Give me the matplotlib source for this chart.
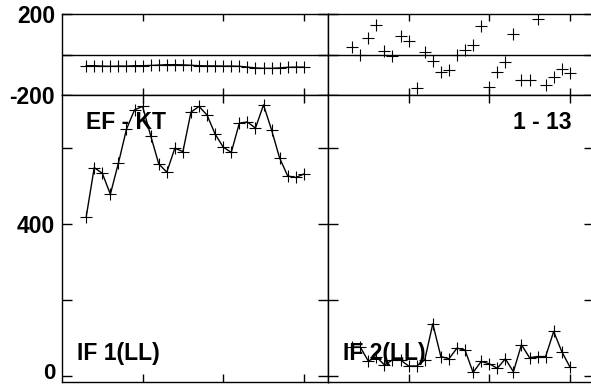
import numpy as np
import matplotlib.pyplot as plt
import matplotlib.transforms as mtransforms

# day index shared by all four panels
days = list(range(3, 31))

# top row: differences (-200..200)
ef_kt = [-55, -55, -57, -58, -57, -57, -55, -55, -54, -52, -50, -50, -51, -53,
         -55, -56, -56, -57, -57, -58, -62, -66, -68, -68, -66, -63, -62, -62]
one_13 = [35, 0, 80, 145, 15, -5, 90, 65, -165, 10, -30, -85, -75, 0,
          20, 45, 140, -160, -85, -35, 100, -125, -125, 175, -150, -110, -70, -90]

# bottom row: IF values
if1 = [418, 548, 533, 478, 560, 649, 700, 709, 632, 558, 536, 599, 590, 694,
       709, 686, 636, 602, 588, 665, 668, 652, 713, 647, 573, 526, 522, 531]
if2 = [76, 76, 39, 50, 29, 42, 42, 26, 26, 42, 137, 51, 45, 73,
       68, 9, 38, 32, 20, 45, 11, 82, 48, 51, 51, 117, 64, 24]

top_labels = ['EF - KT', '1 - 13']
bot_labels = ['IF 1(LL)', 'IF 2(LL)']

plt.rcParams['font.family'] = ['Liberation Sans', 'DejaVu Sans']
plt.rcParams['font.weight'] = 'bold'
FS = 16.5

fig = plt.figure(figsize=(5.91, 3.85), dpi=100)
W, H = 591.0, 385.0
x0 = [62, 328]
pw = 266
tops = [(14, 95), (95, 382)]

axes = {}
for c in range(2):
    for r in range(2):
        yt, yb = tops[r]
        ax = fig.add_axes([x0[c] / W, 1 - yb / H, pw / W, (yb - yt) / H])
        axes[(r, c)] = ax
        ax.set_xlim(0, 33)
        ax.set_xticks([10, 20, 30])
        ax.set_xticklabels([])
        for s in ax.spines.values():
            s.set_linewidth(1.0)
        ax.tick_params(direction='in', top=True, right=True, width=1.0,
                       labelsize=FS, pad=5)
        ax.tick_params(axis='y', length=7)
        ax.tick_params(axis='x', length=5 if r == 0 else 6)
        if r == 0:
            ax.set_ylim(-200, 200)
            ax.set_yticks([-200, 0, 200])
            ax.axhline(0, color='black', lw=1.0)
            if c == 0:
                ax.set_yticklabels(['-200', '', '200'])
        else:
            ax.set_ylim(-16, 739)
            ax.set_yticks([0, 200, 400, 600])
            if c == 0:
                ax.set_yticklabels(['0', '', '400', ''])
        if c == 1:
            ax.set_yticklabels([])

# keep the "0" label inside the canvas
lab0 = axes[(1, 0)].get_yticklabels()[0]
lab0.set_fontsize(16)
lab0.set_transform(lab0.get_transform() +
                   mtransforms.ScaledTranslation(0, 3.5 / 72, fig.dpi_scale_trans))

mk = dict(marker='+', markersize=9, markeredgewidth=0.8, color='black')

axes[(0, 0)].plot(days, ef_kt, lw=0.9, **mk)
axes[(0, 1)].plot(days, one_13, lw=0, **mk)
axes[(1, 0)].plot(days, if1, lw=1.0, **mk)
axes[(1, 1)].plot(days, if2, lw=1.0, **mk)

axes[(1, 0)].text(0.09, 0.944, top_labels[0], transform=axes[(1, 0)].transAxes,
                  fontsize=FS, fontweight='bold', va='top', ha='left', zorder=0)
axes[(1, 1)].text(0.917, 0.944, top_labels[1], transform=axes[(1, 1)].transAxes,
                  fontsize=FS, fontweight='bold', va='top', ha='right', zorder=0)
axes[(1, 0)].text(0.056, 0.077, bot_labels[0], transform=axes[(1, 0)].transAxes,
                  fontsize=FS, fontweight='bold', va='baseline', ha='left', zorder=0)
axes[(1, 1)].text(0.056, 0.077, bot_labels[1], transform=axes[(1, 1)].transAxes,
                  fontsize=FS, fontweight='bold', va='baseline', ha='left', zorder=0)

fig.savefig('out.png', dpi=100)
